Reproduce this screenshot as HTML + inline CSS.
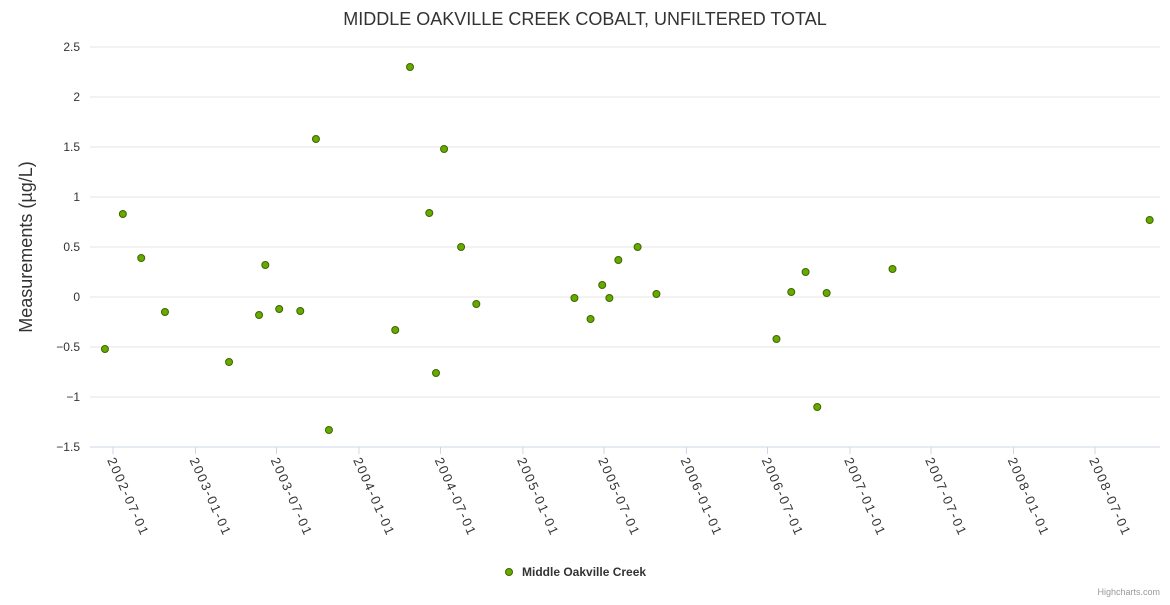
<!DOCTYPE html>
<html><head><meta charset="utf-8"><style>
body{margin:0;background:#fff;font-family:"Liberation Sans",sans-serif}
svg text{font-family:"Liberation Sans",sans-serif}
</style></head><body>
<svg id="chart" width="1170" height="600">
<text x="585" y="25" text-anchor="middle" font-size="18" fill="#333">MIDDLE OAKVILLE CREEK COBALT, UNFILTERED TOTAL</text>
<text transform="translate(32,247) rotate(-90)" text-anchor="middle" font-size="18" fill="#333">Measurements (µg/L)</text>
<g id="grid"></g><g id="xaxis"></g><g id="pts"></g>
<g>
<circle cx="509" cy="572" r="3.5" fill="#66aa00" stroke="#3d6600" stroke-width="1"/>
<text x="522" y="576" font-size="12" font-weight="bold" fill="#333">Middle Oakville Creek</text></g>
<text x="1160" y="595" text-anchor="end" font-size="9" fill="#999">Highcharts.com</text>
</svg>
<script>
const yTicks=[2.5,2,1.5,1,0.5,0,-0.5,-1,-1.5];
const yTickLabels=["2.5","2","1.5","1","0.5","0","−0.5","−1","−1.5"];
const xTickLabels=["2002-07-01","2003-01-01","2003-07-01","2004-01-01","2004-07-01","2005-01-01","2005-07-01","2006-01-01","2006-07-01","2007-01-01","2007-07-01","2008-01-01","2008-07-01"];
const dates=["2002-06-13","2002-07-23","2002-09-02","2002-10-25","2003-03-17","2003-05-23","2003-06-06","2003-07-07","2003-08-23","2003-09-27","2003-10-26","2004-03-22","2004-04-24","2004-06-06","2004-06-21","2004-07-09","2004-08-16","2004-09-19","2005-04-26","2005-06-01","2005-06-27","2005-07-13","2005-08-02","2005-09-14","2005-10-26","2006-07-21","2006-08-23","2006-09-24","2006-10-20","2006-11-10","2007-04-06","2008-10-31"];
const values=[-0.52,0.83,0.39,-0.15,-0.65,-0.18,0.32,-0.12,-0.14,1.58,-1.33,-0.33,2.30,0.84,-0.76,1.48,0.50,-0.07,-0.01,-0.22,0.12,-0.01,0.37,0.50,0.03,-0.42,0.05,0.25,-1.10,0.04,0.28,0.77];
const NS="http://www.w3.org/2000/svg";
const t0=Date.parse("2002-07-01"),t1=Date.parse("2008-07-01");
const xs=d=>113+(Date.parse(d)-t0)/(t1-t0)*(1095-113);
const ys=v=>297-v*100;
function mk(tag,at,parent){const e=document.createElementNS(NS,tag);for(const k in at)e.setAttribute(k,at[k]);document.getElementById(parent).appendChild(e);return e;}
yTicks.forEach((v,i)=>{
 const l=mk('line',{x1:90,x2:1160,y1:ys(v),y2:ys(v),stroke:i==yTicks.length-1?'#ccd6eb':'#e6e6e6','stroke-width':1},'grid');
 
 
 const t=mk('text',{x:80,y:ys(v)+4,'text-anchor':'end','font-size':12,fill:'#333'},'grid');
 t.textContent=yTickLabels[i];
 
 
});
xTickLabels.forEach(s=>{
 const x=xs(s);
 const l=mk('line',{x1:x,x2:x,y1:447,y2:454,stroke:'#ccd6eb'},'xaxis');
 
 
 const t=mk('text',{transform:`translate(${x-6},460) rotate(66)`,'font-size':13,'letter-spacing':'1.8',fill:'#333'},'xaxis');
 t.textContent=s;
 
 
});
dates.forEach((d,i)=>{
 const c=mk('circle',{cx:xs(d),cy:ys(values[i]),r:3.5,fill:'#66aa00',stroke:'#3d6600','stroke-width':1},'pts');
 
 
});
</script>
</body></html>
